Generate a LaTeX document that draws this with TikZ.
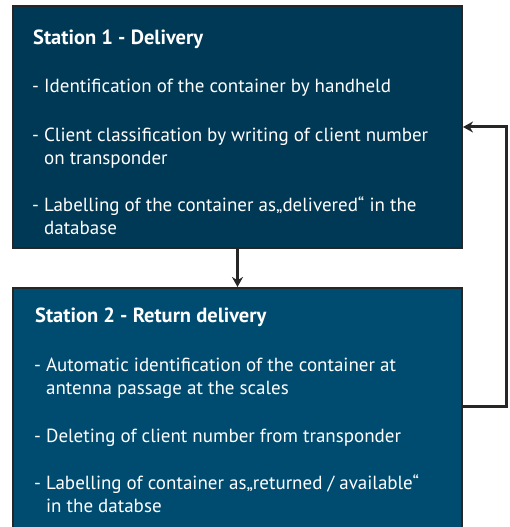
\documentclass[tikz,border=0pt]{standalone}
\usepackage{fontspec}
\setmainfont{PT Sans}
\usetikzlibrary{arrows.meta}
\definecolor{navyone}{HTML}{003955}
\definecolor{navytwo}{HTML}{004C71}
\definecolor{frame}{HTML}{262626}

\begin{document}
\begin{tikzpicture}[x=1pt, y=1pt,
    stationbox/.style={rectangle, draw=frame, line width=2pt, minimum width=449pt, inner sep=0pt},
    title/.style={anchor=base west, text=white, font=\fontsize{20.5}{23}\selectfont\bfseries, inner sep=0pt},
    item/.style={anchor=base west, text=white, align=left, font=\fontsize{19}{23}\selectfont, inner sep=0pt},
    flow/.style={frame, line width=2.5pt, -{Stealth[length=10pt,width=11pt]}}]
    \useasboundingbox (0,0) rectangle (509,527);
    % Station 1
    \node[stationbox, fill=navyone, minimum height=242pt] (st1) at (237.5,400) {};
    \node[title] (t1) at (33,482) {Station 1 - Delivery};
    \node[item] (a1) at (32,434) {- Identification of the container by handheld};
    \node[item] (a2) at (32,362) {- Client classification by writing of client number\\\phantom{- }on transponder};
    \node[item] (a3) at (32,292) {- Labelling of the container as„delivered“ in the\\\phantom{- }database};
    % Station 2
    \node[stationbox, fill=navytwo, minimum height=244pt] (st2) at (237.5,117) {};
    \node[title] (t2) at (35,204) {Station 2 - Return delivery};
    \node[item] (b1) at (34,132) {- Automatic identification of the container at\\\phantom{- }antenna passage at the scales};
    \node[item] (b2) at (34,84) {- Deleting of client number from transponder};
    \node[item] (b3) at (34,14) {- Labelling of container as„returned / available“\\\phantom{- }in the databse};
    % connectors
    \draw[flow] (st1.south) -- (st2.north);
    \draw[flow, line width=3pt] ([yshift=3pt]st2.east) -- ++(43,0) |- (st1.east);
\end{tikzpicture}
\end{document}
